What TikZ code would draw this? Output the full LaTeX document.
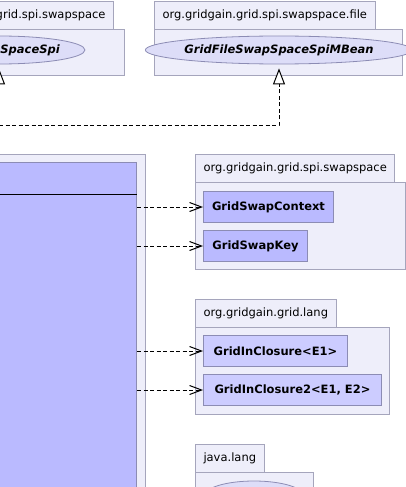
\documentclass[tikz,border=0pt]{standalone}
\usepackage{fontspec}
\setmainfont{DejaVu Sans}
\usetikzlibrary{arrows.meta,shapes.geometric}

\definecolor{pkgfill}{RGB}{238,238,250}
\definecolor{pkgline}{RGB}{165,165,188}
\definecolor{clsfill}{RGB}{186,186,255}
\definecolor{extfill}{RGB}{204,204,255}
\definecolor{clsline}{RGB}{140,140,180}
\definecolor{ovalfill}{RGB}{221,221,248}

\tikzset{
  pkgtab/.style={draw=pkgline, fill=pkgfill, line width=1pt, minimum height=28pt,
    inner xsep=8pt, font=\fontsize{11.5}{13}\selectfont},
  pkgbody/.style={draw=pkgline, fill=pkgfill, line width=1pt},
  clsbox/.style={draw=clsline, fill=clsfill, line width=1pt, minimum height=31pt,
    anchor=north west, font=\fontsize{11.5}{13}\selectfont\bfseries},
  extbox/.style={clsbox, fill=extfill},
  oval/.style={ellipse, draw=clsline, fill=ovalfill, line width=.8pt, inner sep=0pt,
    font=\fontsize{11.5}{13}\selectfont\bfseries\itshape},
  dep/.style={dash pattern=on 4pt off 2.5pt, line width=1pt,
    -{Straight Barb[length=12pt,width=9pt]}},
  realize/.style={dash pattern=on 4pt off 2.5pt, line width=1pt,
    -{Triangle[length=16pt,width=12pt,fill=white]}, shorten >=4pt}
}

\begin{document}
\begin{tikzpicture}[x=1pt,y=-1pt]
  \useasboundingbox (0,0) rectangle (406,487);

  % packages on top
  \node[pkgtab, anchor=north east] (spitab) at (114,1) {org.gridgain.grid.spi.swapspace};
  \node[pkgbody, anchor=north east, minimum width=250pt, minimum height=46pt] (spibody) at (125,29) {};
  \node[oval, minimum width=152pt, minimum height=28pt] (spi) at (-1,50) {GridSwapSpaceSpi};

  \node[pkgtab, anchor=north west] (filetab) at (154,1) {org.gridgain.grid.spi.swapspace.file};
  \node[pkgbody, anchor=north west, minimum width=248pt, minimum height=46pt] (filebody) at (154,29) {};
  \node[oval, minimum width=235pt, minimum height=28pt] (mbean) at (279,50) {GridFileSwapSpaceSpiMBean};

  % the class itself
  \node[pkgbody, anchor=north east, minimum width=260pt, minimum height=400pt] (mainpkg) at (146,154) {};
  \node[clsbox, anchor=north east, minimum width=250pt, minimum height=400pt] (main) at (137,162) {};
  \draw[line width=1pt] ([yshift=-32pt]main.north west) -- ([yshift=-32pt]main.north east);

  % used packages
  \node[pkgtab, anchor=north west] (swaptab) at (195,154) {org.gridgain.grid.spi.swapspace};
  \node[pkgbody, anchor=north west, minimum width=210pt, minimum height=87pt] (swapbody) at (195,182) {};
  \node[clsbox, minimum width=130pt] (ctx) at (203,191) {GridSwapContext};
  \node[clsbox, minimum width=104pt] (key) at (203,230) {GridSwapKey};

  \node[pkgtab, anchor=north west] (langtab) at (195,299) {org.gridgain.grid.lang};
  \node[pkgbody, anchor=north west, minimum width=194pt, minimum height=87pt] (langbody) at (195,327) {};
  \node[extbox, minimum width=144pt] (inc) at (203,335) {GridInClosure<E1>};
  \node[extbox, minimum width=178pt] (inc2) at (203,374) {GridInClosure2<E1, E2>};

  \node[pkgtab, anchor=north west] (javatab) at (195,444) {java.lang};
  \node[pkgbody, anchor=north west, minimum width=118pt, minimum height=60pt] (javabody) at (195,472) {};
  \node[oval, minimum width=100pt, minimum height=30pt] (obj) at (254,496) {};

  % connectors
  \foreach \dst in {ctx,key,inc,inc2}
    \draw[dep] (\dst.west -| main.east) -- (\dst.west);

  \coordinate (elbow) at (-1,125);
  \draw[realize] (elbow) -| (mbean.south);
  \draw[realize] (elbow) -- (spi.south);
\end{tikzpicture}
\end{document}
